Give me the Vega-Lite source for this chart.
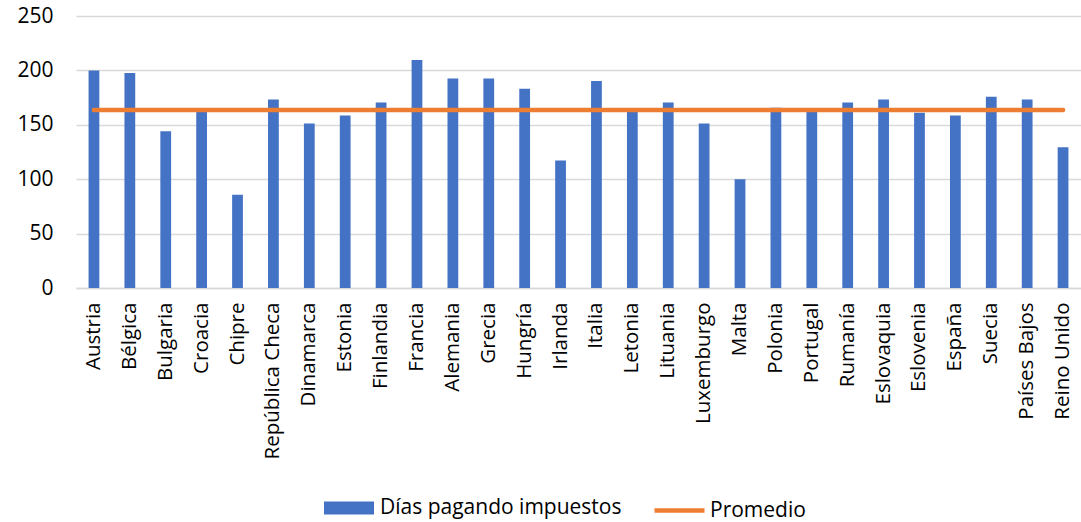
{
  "$schema": "https://vega.github.io/schema/vega-lite/v6.json",
  "width": 1005,
  "height": 272,
  "autosize": {"type": "none"},
  "padding": {"left": 76, "top": 16, "right": 0, "bottom": 234},
  "config": {
    "font": "Open Sans",
    "view": {"stroke": null},
    "axis": {"labelFont": "Open Sans", "labelColor": "#000000"},
    "legend": {"labelFont": "Open Sans"}
  },
  "data": {
    "values": [
      {"pais": "Austria", "dias": 200, "prom": 163.6},
      {"pais": "Bélgica", "dias": 197.5, "prom": 163.6},
      {"pais": "Bulgaria", "dias": 144, "prom": 163.6},
      {"pais": "Croacia", "dias": 162, "prom": 163.6},
      {"pais": "Chipre", "dias": 85.6, "prom": 163.6},
      {"pais": "República Checa", "dias": 173.3, "prom": 163.6},
      {"pais": "Dinamarca", "dias": 151.2, "prom": 163.6},
      {"pais": "Estonia", "dias": 158.6, "prom": 163.6},
      {"pais": "Finlandia", "dias": 170.6, "prom": 163.6},
      {"pais": "Francia", "dias": 209.5, "prom": 163.6},
      {"pais": "Alemania", "dias": 192.6, "prom": 163.6},
      {"pais": "Grecia", "dias": 192.6, "prom": 163.6},
      {"pais": "Hungría", "dias": 183.1, "prom": 163.6},
      {"pais": "Irlanda", "dias": 117.2, "prom": 163.6},
      {"pais": "Italia", "dias": 190.2, "prom": 163.6},
      {"pais": "Letonia", "dias": 162, "prom": 163.6},
      {"pais": "Lituania", "dias": 170.6, "prom": 163.6},
      {"pais": "Luxemburgo", "dias": 151.2, "prom": 163.6},
      {"pais": "Malta", "dias": 100, "prom": 163.6},
      {"pais": "Polonia", "dias": 165.6, "prom": 163.6},
      {"pais": "Portugal", "dias": 162, "prom": 163.6},
      {"pais": "Rumanía", "dias": 170.6, "prom": 163.6},
      {"pais": "Eslovaquia", "dias": 173.3, "prom": 163.6},
      {"pais": "Eslovenia", "dias": 161, "prom": 163.6},
      {"pais": "España", "dias": 158.6, "prom": 163.6},
      {"pais": "Suecia", "dias": 175.8, "prom": 163.6},
      {"pais": "Países Bajos", "dias": 173.3, "prom": 163.6},
      {"pais": "Reino Unido", "dias": 129.4, "prom": 163.6}
    ]
  },
  "encoding": {
    "x": {
      "field": "pais",
      "type": "nominal",
      "sort": null,
      "title": null,
      "scale": {"paddingInner": 0.7, "paddingOuter": 0.35},
      "axis": {
        "labelAngle": -90,
        "labelFontSize": 20.5,
        "labelPadding": 14,
        "labelLimit": 300,
        "ticks": false,
        "domainColor": "#d9d9d9",
        "domainWidth": 1.5
      }
    }
  },
  "layer": [
    {
      "mark": {"type": "bar", "color": "#4472C4"},
      "encoding": {
        "y": {
          "field": "dias",
          "type": "quantitative",
          "title": null,
          "scale": {"domain": [0, 250], "nice": false},
          "axis": {
            "values": [0, 50, 100, 150, 200, 250],
            "labelFontSize": 21,
            "labelPadding": 23,
            "domain": false,
            "ticks": false,
            "gridColor": "#d9d9d9",
            "gridWidth": 1.5
          }
        },
        "fill": {
          "datum": "Días pagando impuestos",
          "type": "nominal",
          "scale": {"range": ["#4472C4"]},
          "legend": {
            "orient": "none",
            "legendX": 248,
            "legendY": 467,
            "title": null,
            "symbolType": "M-1,-0.26H1V0.26H-1Z",
            "symbolSize": 2500,
            "symbolStrokeWidth": 0,
            "labelFontSize": 21,
            "labelOffset": 6,
            "labelLimit": 400,
            "labelColor": "#000000"
          }
        }
      }
    },
    {
      "mark": {"type": "line", "color": "#ED7D31", "strokeWidth": 4.5, "strokeCap": "round"},
      "encoding": {
        "y": {"field": "prom", "type": "quantitative"},
        "stroke": {
          "datum": "Promedio",
          "type": "nominal",
          "scale": {"range": ["#ED7D31"]},
          "legend": {
            "orient": "none",
            "legendX": 576,
            "legendY": 467,
            "title": null,
            "symbolType": "stroke",
            "symbolSize": 2500,
            "symbolStrokeWidth": 4.5,
            "labelFontSize": 21,
            "labelOffset": 3,
            "labelLimit": 400,
            "labelColor": "#000000"
          }
        }
      }
    }
  ]
}
